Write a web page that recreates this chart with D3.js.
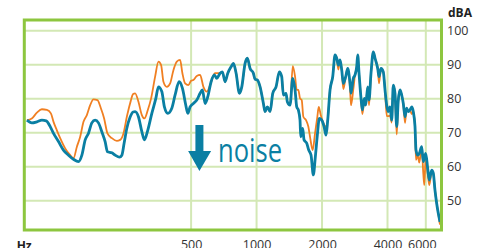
<!DOCTYPE html>
<html>
<head>
<meta charset="utf-8">
<script src="https://cdn.jsdelivr.net/npm/d3@7"></script>
<style>
  body { margin: 0; background: #fff; }
  text { font-family: "Open Sans", sans-serif; }
</style>
</head>
<body>
<div id="chart"></div>
<script>
// tick labels
var xTicks = [500, 1000, 2000, 4000, 6000];
var yTicks = [50, 60, 70, 80, 90, 100];

// blue curve (after)
var tealHz = [87.9, 92.6, 97.7, 103, 107.8, 112.5, 116.5, 122.8, 129.4, 136.5, 143.9, 151.7, 157.3, 162.9, 168.6, 174.8, 181, 187.5, 194.3, 201.2, 206.2, 216.1, 223.7, 234.1, 240.2, 246, 253.2, 262.2, 270.7, 276.4, 286.3, 296.8, 305, 316.2, 329.9, 344.2, 353.8, 366.6, 376.9, 390.7, 407.6, 422.1, 440.4, 456, 472.7, 482.8, 494.7, 512.3, 531.1, 550, 563.5, 579.9, 596.7, 617.9, 639.8, 656.3, 679.6, 696.3, 716.5, 737.3, 763.7, 782.4, 805.2, 833.8, 855.1, 885.5, 907.3, 933.6, 966.8, 984.3, 1008, 1038, 1075, 1094, 1121, 1154, 1187, 1229, 1273, 1305, 1328, 1366, 1385, 1425, 1467, 1503, 1530, 1556, 1584, 1596, 1630, 1653, 1701, 1737, 1780, 1824, 1863, 1903, 1943, 1994, 2043, 2087, 2124, 2177, 2240, 2295, 2337, 2377, 2420, 2464, 2506, 2570, 2625, 2690, 2718, 2785, 2836, 2887, 2918, 2959, 3022, 3064, 3129, 3176, 3244, 3289, 3359, 3442, 3505, 3606, 3656, 3734, 3826, 3896, 3966, 4034, 4107, 4182, 4253, 4330, 4409, 4484, 4566, 4648, 4728, 4814, 4901, 4985, 5076, 5168, 5256, 5352, 5408, 5507, 5601, 5745, 5843, 5993, 6121, 6226, 6386, 6495, 6612, 6733, 6848, 6972];
var tealDb = [73.7, 72.9, 73.2, 73.7, 73.5, 71.8, 69.8, 67.4, 64.9, 63.4, 62.2, 61.5, 63.4, 67.9, 69.8, 72.9, 73.7, 72.9, 70.3, 67.4, 64.4, 64.1, 63.4, 62.8, 63.4, 66.9, 71.3, 74.6, 76.1, 76.2, 74.7, 70.3, 67.9, 70.8, 75.7, 80.1, 83.5, 82.1, 77.6, 75.7, 77.2, 81.1, 85.0, 83.1, 78.1, 75.7, 77.6, 78.6, 79.6, 81.6, 82.6, 78.6, 80.6, 85.0, 87.0, 86.0, 87.5, 87.9, 85.0, 87.5, 89.4, 90.4, 87.5, 81.6, 83.5, 90.4, 91.9, 88.9, 87.5, 85.7, 85.5, 83.5, 78.6, 76.2, 77.6, 76.2, 81.6, 83.5, 87.9, 86.5, 81.1, 81.6, 79.1, 78.1, 86.0, 82.6, 77.6, 76.7, 73.7, 68.8, 71.3, 67.9, 66.9, 64.9, 63.4, 57.6, 62.9, 69.3, 74.2, 73.7, 71.8, 69.3, 73.7, 82.6, 86.5, 92.9, 91.9, 89.9, 91.4, 88.4, 84.5, 86.5, 88.9, 84.5, 81.6, 86.0, 87.0, 89.4, 92.9, 87.5, 80.1, 76.7, 80.1, 78.1, 83.5, 79.6, 87.5, 93.8, 91.9, 88.9, 86.5, 88.9, 87.9, 82.6, 78.1, 76.2, 77.6, 73.7, 84.0, 81.6, 71.8, 79.6, 82.6, 81.1, 78.6, 74.7, 77.2, 76.2, 76.7, 77.6, 76.2, 71.8, 64.9, 63.4, 63.9, 65.9, 61.5, 63.9, 59.5, 56.1, 59.0, 58.1, 53.1, 49.2, 46.3, 43.8];

// orange curve (before)
var orangeHz = [87.9, 92.6, 97.7, 103, 108.6, 113.3, 116.5, 120.7, 125, 131.8, 139, 143.9, 149.2, 154.5, 160, 165.8, 171.7, 177.8, 185.5, 192.3, 199.1, 206.2, 216.1, 227.8, 235.9, 244.3, 253.2, 262.2, 270.7, 276.4, 286.3, 296.8, 305, 316.2, 327.4, 341.6, 353.8, 364, 373, 386.6, 400.4, 414.6, 429.8, 445, 456, 469.2, 485.9, 500, 512.3, 531.1, 550, 569.6, 590.4, 611.4, 626.4, 644.6,
  679.6, 696.3, 716.5, 737.3, 763.7, 782.4, 805.2, 833.8, 855.1, 885.5, 907.3, 933.6, 966.8, 984.3, 1008, 1038, 1075, 1094, 1121, 1154, 1187, 1229, 1273, 1305, 1328, 1366, 1385, 1425,
  1467, 1503, 1530, 1556, 1584, 1613, 1641, 1688, 1730, 1761, 1812, 1857, 1903, 1931, 1973, 2028, 2087, 2124,
  2177, 2240, 2295, 2337, 2377, 2420, 2464, 2506, 2570, 2625, 2690, 2718, 2785, 2836, 2887, 2918, 2959, 3022, 3064, 3129, 3176, 3244, 3289, 3359, 3442, 3505, 3606, 3656, 3734, 3826, 3896, 3966, 4034, 4107, 4182, 4253, 4330, 4409, 4484, 4566, 4648, 4728, 4814, 4901, 4985, 5076, 5168, 5256, 5352, 5408, 5507, 5601, 5745, 5843, 5905, 5993, 6121, 6226, 6386, 6495, 6612, 6733, 6848, 6972];
var orangeDb = [73.7, 74.2, 75.9, 76.9, 76.7, 75.7, 73.2, 70.7, 68.4, 65.4, 63.4, 62.5, 65.9, 68.8, 73.2, 75.2, 78.1, 79.8, 79.6, 77.2, 74.2, 69.8, 68.4, 67.6, 67.9, 69.8, 74.7, 78.7, 81.4, 81.6, 79.1, 75.2, 74.2, 76.7, 80.1, 86.5, 90.9, 89.9, 85.0, 83.5, 84.5, 88.4, 90.9, 91.4, 87.5, 84.5, 84.0, 85.3, 85.5, 86.7, 87.0, 83.5, 82.1, 84.0, 86.0, 87.5,
  87.5, 87.9, 85.0, 87.5, 89.4, 90.4, 87.5, 81.6, 83.5, 90.4, 91.9, 88.9, 87.5, 85.7, 85.5, 83.5, 78.6, 76.2, 77.6, 76.2, 81.6, 83.5, 87.9, 86.5, 81.1, 81.6, 79.1, 78.1,
  89.6, 86.5, 82.6, 82.6, 80.1, 79.6, 74.7, 73.7, 71.8, 68.8, 64.9, 69.8, 74.7, 77.6, 75.2, 72.8, 71.8, 73.7,
  82.6, 86.5, 92.9, 91.9, 88.6, 91.4, 88.4, 82.8, 86.5, 88.9, 83.0, 78.1, 82.8, 87.0, 89.4, 92.9, 87.5, 80.1, 75.5, 79.0, 78.1, 83.5, 78.1, 87.5, 93.8, 91.9, 88.9, 84.5, 88.9, 87.9, 82.6, 74.9, 74.9, 75.0, 73.0, 84.0, 81.6, 69.5, 79.6, 82.6, 81.1, 78.6, 72.9, 77.2, 76.2, 76.7, 75.5, 76.2, 71.8, 62.0, 63.4, 61.2, 65.9, 58.0, 54.6, 63.0, 58.0, 54.6, 58.5, 58.1, 53.1, 49.2, 46.3, 43.0];

var width = 483, height = 248;
var plot = { left: 24.3, right: 441.5, top: 20, bottom: 230 };

var svg = d3.select("#chart")
    .append("svg")
    .attr("width", width)
    .attr("height", height);

var x = d3.scaleLog()
    .domain([85.5, 7085])
    .range([plot.left, plot.right]);

var y = d3.scaleLinear()
    .domain([41.4, 103.15])
    .range([plot.bottom, plot.top]);

var gridColor = "#d3e8b5";

// horizontal grid
svg.append("g")
    .selectAll("line")
    .data(yTicks)
    .enter()
    .append("line")
    .attr("x1", plot.left)
    .attr("x2", plot.right)
    .attr("y1", function(d) { return y(d); })
    .attr("y2", function(d) { return y(d); })
    .attr("stroke", gridColor)
    .attr("stroke-width", 2);

// vertical grid
svg.append("g")
    .selectAll("line")
    .data(xTicks)
    .enter()
    .append("line")
    .attr("x1", function(d) { return x(d); })
    .attr("x2", function(d) { return x(d); })
    .attr("y1", plot.top)
    .attr("y2", plot.bottom)
    .attr("stroke", gridColor)
    .attr("stroke-width", 2);

function series(hz, db) {
    return hz.map(function(f, i) { return { f: f, v: db[i] }; });
}

var line = d3.line()
    .x(function(d) { return x(d.f); })
    .y(function(d) { return y(d.v); })
    .curve(d3.curveMonotoneX);

svg.append("path")
    .datum(series(orangeHz, orangeDb))
    .attr("d", line)
    .attr("fill", "none")
    .attr("stroke", "#f07f22")
    .attr("stroke-width", 1.8)
    .attr("stroke-linejoin", "round");

svg.append("path")
    .datum(series(tealHz, tealDb))
    .attr("d", line)
    .attr("fill", "none")
    .attr("stroke", "#0a7fa3")
    .attr("stroke-width", 2.8)
    .attr("stroke-linejoin", "round");

// frame
svg.append("rect")
    .attr("x", plot.left)
    .attr("y", plot.top)
    .attr("width", plot.right - plot.left)
    .attr("height", plot.bottom - plot.top)
    .attr("fill", "none")
    .attr("stroke", "#8dc63f")
    .attr("stroke-width", 3);

// y axis on the right
var yAxis = svg.append("g")
    .attr("transform", "translate(" + plot.right + ",0)")
    .call(d3.axisRight(y).tickValues(yTicks).tickSize(0).tickPadding(5.5));
yAxis.select(".domain").remove();
yAxis.selectAll("text")
    .style("font-family", "'Open Sans', sans-serif")
    .style("font-size", "12.5px")
    .attr("fill", "#333");

// x axis labels
var xAxis = svg.append("g")
    .attr("transform", "translate(0," + plot.bottom + ")")
    .call(d3.axisBottom(x).tickValues(xTicks).tickFormat(d3.format("d")).tickSize(0).tickPadding(10.6));
xAxis.select(".domain").remove();
xAxis.selectAll("text")
    .style("font-family", "'Open Sans', sans-serif")
    .style("font-size", "12.5px")
    .attr("fill", "#333")
    .attr("dx", function(d) { return d == 6000 ? -4 : 0; });

// units
svg.append("text")
    .attr("x", 448)
    .attr("y", 16.5)
    .attr("font-size", 12)
    .attr("font-weight", "bold")
    .attr("fill", "#222")
    .text("dBA");

svg.append("text")
    .attr("x", 16.7)
    .attr("y", 249.5)
    .attr("font-size", 12)
    .attr("font-weight", "bold")
    .attr("fill", "#222")
    .text("Hz");

// noise annotation
var ax = x(546);
svg.append("path")
    .attr("d", "M" + (ax - 4) + "," + 125 + "H" + (ax + 4) + "V151H" + (ax + 11.7) +
        "L" + ax + ",171L" + (ax - 11.3) + ",151H" + (ax - 4) + "Z")
    .attr("fill", "#0a7fa3");

svg.append("text")
    .attr("x", 218)
    .attr("y", 162)
    .attr("font-size", 32)
    .attr("fill", "#0a7fa3")
    .attr("textLength", 64)
    .attr("lengthAdjust", "spacingAndGlyphs")
    .text("noise");
</script>
</body>
</html>
